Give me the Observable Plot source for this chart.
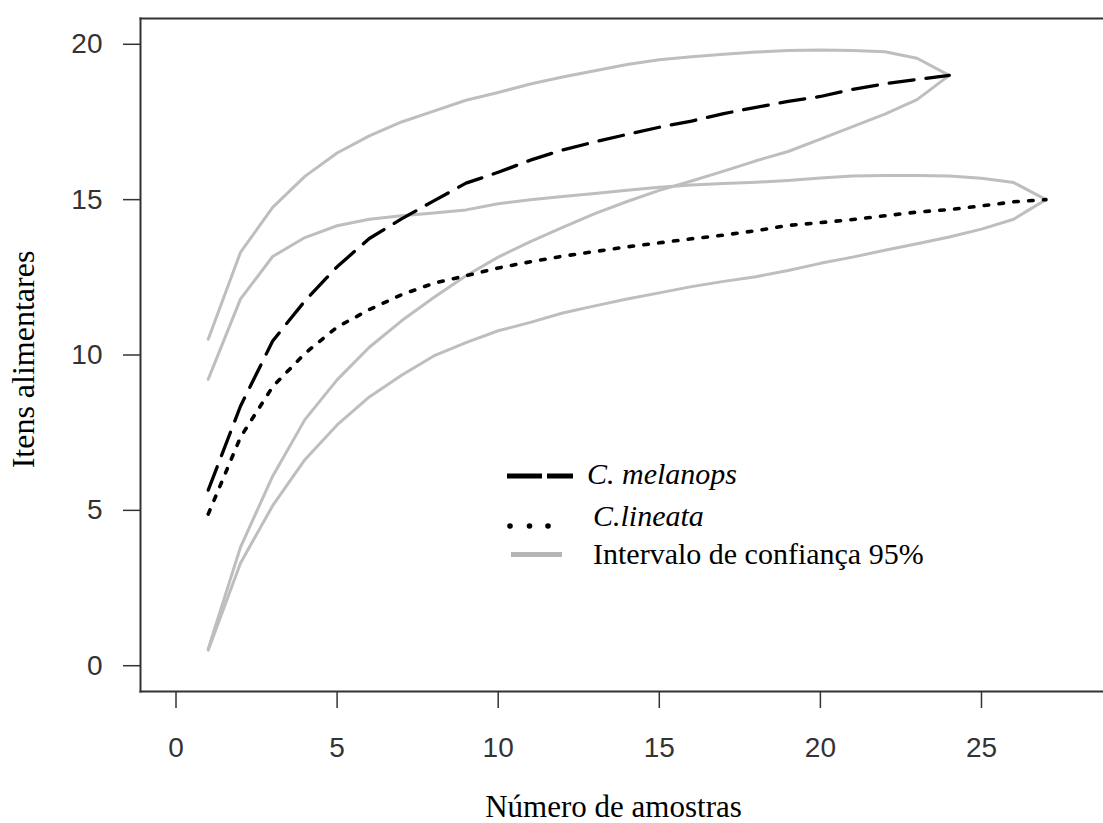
<!DOCTYPE html>
<html><head><meta charset="utf-8">
<script src="https://cdn.jsdelivr.net/npm/d3@7"></script>
<script src="https://cdn.jsdelivr.net/npm/@observablehq/plot@0.6"></script>
<style>
html,body{margin:0;padding:0;background:#fff;overflow:hidden}
#wrap{position:relative;width:1103px;height:823px}
#legend{position:absolute;left:0;top:0;pointer-events:none}
</style></head><body><div id="wrap"></div>
<script>
const amostras = [1,2,3,4,5,6,7,8,9,10,11,12,13,14,15,16,17,18,19,20,21,22,23,24,25,26,27];
const melanopsMedia = [5.65, 8.35, 10.45, 11.74, 12.84, 13.75, 14.38, 14.96, 15.53, 15.88, 16.27, 16.6, 16.86, 17.1, 17.33, 17.53, 17.77, 17.97, 18.16, 18.32, 18.55, 18.73, 18.87, 19.0];
const melanopsSup = [10.51, 13.3, 14.75, 15.75, 16.5, 17.05, 17.5, 17.85, 18.2, 18.45, 18.72, 18.95, 19.15, 19.35, 19.5, 19.6, 19.68, 19.75, 19.8, 19.82, 19.8, 19.76, 19.55, 19.0];
const melanopsInf = [0.54, 3.81, 6.1, 7.92, 9.2, 10.25, 11.1, 11.85, 12.55, 13.15, 13.65, 14.11, 14.55, 14.94, 15.3, 15.6, 15.92, 16.25, 16.55, 16.95, 17.35, 17.75, 18.22, 19.0];
const lineataMedia = [4.88, 7.35, 8.98, 10.05, 10.9, 11.46, 11.94, 12.31, 12.55, 12.8, 13.0, 13.18, 13.33, 13.48, 13.61, 13.74, 13.86, 14.0, 14.17, 14.26, 14.36, 14.48, 14.6, 14.68, 14.8, 14.93, 15.0];
const lineataSup = [9.22, 11.8, 13.17, 13.78, 14.16, 14.37, 14.48, 14.57, 14.67, 14.87, 15.0, 15.1, 15.2, 15.3, 15.4, 15.47, 15.52, 15.56, 15.62, 15.7, 15.76, 15.78, 15.78, 15.76, 15.69, 15.55, 15.0];
const lineataInf = [0.5, 3.3, 5.15, 6.63, 7.75, 8.65, 9.35, 9.97, 10.4, 10.78, 11.05, 11.35, 11.58, 11.8, 12.0, 12.2, 12.37, 12.52, 12.72, 12.95, 13.15, 13.37, 13.58, 13.8, 14.05, 14.37, 15.0];
const xTicks = [0, 5, 10, 15, 20, 25];
const yTicks = [0, 5, 10, 15, 20];
const legendLabels = ["C. melanops", "C.lineata", "Intervalo de confiança 95%"];
const xLabel = "Número de amostras";
const yLabel = "Itens alimentares";

const toRows = (vals, serie) => vals.map((v, i) => ({x: amostras[i], y: v, serie}));
const ci = [
  toRows(melanopsSup, "melanopsSup"), toRows(melanopsInf, "melanopsInf"),
  toRows(lineataSup, "lineataSup"), toRows(lineataInf, "lineataInf")
].flat();

const chart = Plot.plot({
  width: 1103, height: 823,
  marginLeft: 140, marginRight: 0, marginTop: 18, marginBottom: 132,
  style: {background: "#fff", color: "#333", overflow: "visible"},
  x: {domain: [-1.102, 28.787]},
  y: {domain: [-0.83, 20.83]},
  marks: [
    Plot.line(ci, {x: "x", y: "y", z: "serie", stroke: "#bebebe", strokeWidth: 3}),
    Plot.line(toRows(melanopsMedia, "m"), {x: "x", y: "y", stroke: "#000", strokeWidth: 3.3, strokeDasharray: "25,12"}),
    Plot.line(toRows(lineataMedia, "l"), {x: "x", y: "y", stroke: "#000", strokeWidth: 3.6, strokeDasharray: "4.5,10.4"}),
    Plot.frame({anchor: "left", stroke: "#333", strokeWidth: 2}),
    Plot.frame({anchor: "top", stroke: "#333", strokeWidth: 2}),
    Plot.frame({anchor: "bottom", stroke: "#333", strokeWidth: 2}),
    Plot.axisX(xTicks, {tickSize: 17, tickPadding: 29, fontSize: 28, fontFamily: "Liberation Sans", label: null, strokeWidth: 1.5}),
    Plot.axisY(yTicks, {tickSize: 17, tickPadding: 21, fontSize: 28, fontFamily: "Liberation Sans", label: null, strokeWidth: 1.5}),
    Plot.text([xLabel], {text: d => d, frameAnchor: "bottom", dy: 116, dx: -8.5, fontSize: 31, fontFamily: "Liberation Serif", fill: "#000", lineAnchor: "middle", textAnchor: "middle"}),
    Plot.text([yLabel], {text: d => d, frameAnchor: "left", rotate: -90, dx: -117, dy: 4.5, fontSize: 32, fontFamily: "Liberation Serif", fill: "#000", lineAnchor: "middle", textAnchor: "middle"})
  ]
});
const wrap = document.getElementById("wrap");
wrap.appendChild(chart);

// legend overlay
const leg = d3.select(wrap).append("svg").attr("id", "legend").attr("width", 1103).attr("height", 823);
leg.append("line").attr("x1", 507).attr("x2", 573).attr("y1", 476).attr("y2", 476)
  .attr("stroke", "#000").attr("stroke-width", 5).attr("stroke-dasharray", "35,5");
[510, 529.5, 548].forEach(cx => leg.append("circle").attr("cx", cx).attr("cy", 526).attr("r", 2.8).attr("fill", "#000"));
leg.append("line").attr("x1", 511).attr("x2", 562).attr("y1", 554.5).attr("y2", 554.5)
  .attr("stroke", "#b5b5b5").attr("stroke-width", 5);
const lt = [[587, 484, "italic"], [593, 526, "italic"], [593, 564, "normal"]];
legendLabels.forEach((t, i) => leg.append("text").attr("x", lt[i][0]).attr("y", lt[i][1])
  .attr("font-family", "Liberation Serif").attr("font-size", 30).attr("font-style", lt[i][2])
  .attr("fill", "#000").text(t));
</script></body></html>
